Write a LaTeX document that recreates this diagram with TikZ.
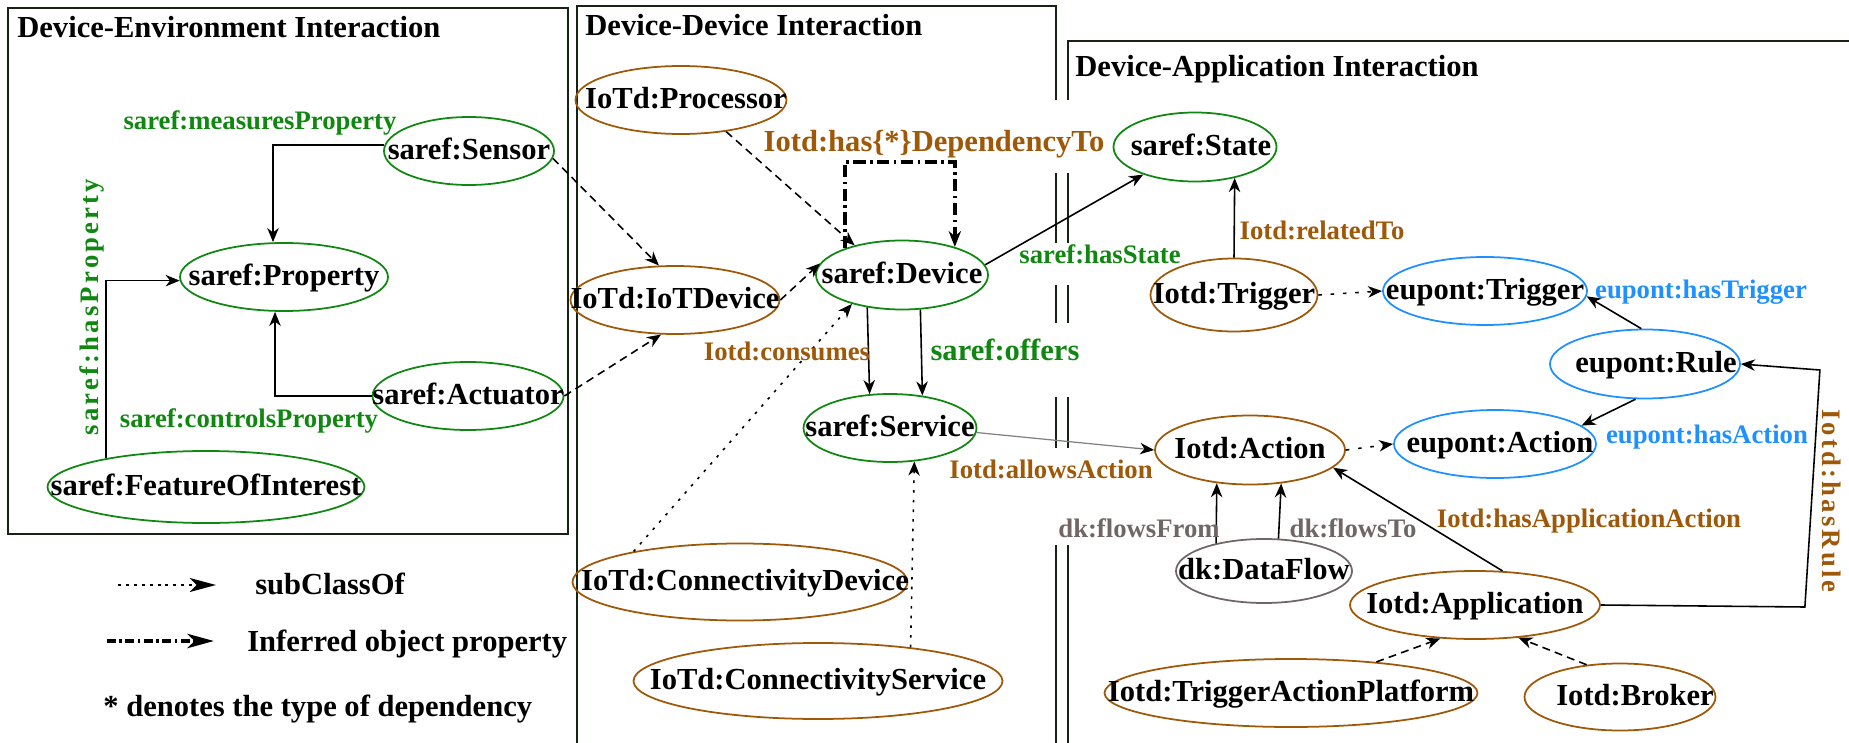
\documentclass[tikz,border=0pt]{standalone}
\usepackage{fontspec}
\setmainfont{Liberation Serif}
\usetikzlibrary{arrows.meta,shapes.geometric,calc}

\definecolor{sgreen}{RGB}{16,135,16}
\definecolor{iotbrown}{RGB}{158,88,8}
\definecolor{eublue}{RGB}{30,144,255}
\definecolor{dkgray}{RGB}{112,102,102}
\definecolor{framecol}{RGB}{20,35,20}

% centred text that does not enlarge the ellipse around it
\newcommand\ctext[2][0pt]{\makebox[0pt]{\hspace*{#1}#2}}

\begin{document}
\begin{tikzpicture}[x=0.02cm,y=-0.02cm,
  nodefont/.style={font=\fontsize{17.4}{20}\selectfont\bfseries},
  labfont/.style={font=\fontsize{15.2}{18}\selectfont\bfseries},
  spacedfont/.style={font=\fontsize{15.2}{18}\selectfont\bfseries\addfontfeatures{LetterSpace=12}},
  wh/.style 2 args={minimum width=#1*0.02cm, minimum height=#2*0.02cm},
  cls/.style={ellipse, draw=#1, line width=1pt, inner sep=0pt, nodefont,
              text height=9.5pt, text depth=0pt},
  gnode/.style={cls=sgreen},
  bnode/.style={cls=iotbrown},
  unode/.style={cls=eublue},
  knode/.style={cls=dkgray},
  lab/.style={labfont, anchor=base, inner sep=0pt},
  biglab/.style={nodefont, anchor=base, inner sep=0pt},
  tip/.style={-{Stealth[length=8pt,width=6.5pt,inset=2.5pt]}},
  rel/.style={draw, line width=0.9pt, tip},
  graylink/.style={draw=gray, line width=0.7pt,
                   -{Stealth[length=8pt,width=6.5pt,inset=2.5pt,color=black]}},
  sub/.style={rel, dash pattern=on 4.5pt off 3pt},
  subdot/.style={rel, dash pattern=on 1.5pt off 4pt},
  subfine/.style={rel, dash pattern=on 2pt off 5pt},
  inferred/.style={draw, line width=2.2pt, dash pattern=on 7pt off 2.5pt on 1.5pt off 2.5pt,
                   -{Stealth[length=9pt,width=7pt,inset=3pt]}},
  frame/.style={draw=framecol, line width=1.2pt},
]
\useasboundingbox (0,0) rectangle (1849,743);

% ---------- panel frames ----------
\draw[frame] (8,8) rectangle (568,534);
\draw[frame] (577,743) -- (577,6) -- (1056,6) -- (1056,100);
\draw[frame] (1068,100) -- (1068,41) -- (1849,41);
\foreach \ya/\yb in {173/243, 285/323, 397/448, 545/743}{
  \draw[frame] (1056,\ya) -- (1056,\yb);
  \draw[frame] (1068,\ya) -- (1068,\yb);
}

\node[nodefont, anchor=base west, inner sep=0pt] (tde) at (17,38) {Device-Environment Interaction};
\node[nodefont, anchor=base west, inner sep=0pt] (tdd) at (585,36) {Device-Device Interaction};
\node[nodefont, anchor=base west, inner sep=0pt] (tda) at (1075,77) {Device-Application Interaction};

% ---------- classes ----------
\node[gnode, wh={170}{68}] (sensor)   at (469,151) {\ctext{saref:Sensor}};
\node[gnode, wh={208}{68}] (property) at (284,277) {\ctext{saref:Property}};
\node[gnode, wh={191}{68}] (actuator) at (468,396) {\ctext{saref:Actuator}};
\node[gnode, wh={317}{72}] (foi)      at (206,487) {\ctext{saref:FeatureOfInterest}};

\node[bnode, wh={211}{68}] (processor) at (681,100) {\ctext[0.2cm]{IoTd:Processor}};
\node[bnode, wh={209}{68}] (iotdevice) at (675,300) {\ctext{IoTd:IoTDevice}};
\node[gnode, wh={172}{69}] (device)    at (902,275) {\ctext{saref:Device}};
\node[gnode, wh={173}{68}] (service)   at (890,428) {\ctext{saref:Service}};
\node[bnode, wh={335}{77}] (conndev)   at (740,582) {\ctext[0.2cm]{IoTd:ConnectivityDevice}};
\node[bnode, wh={369}{76}] (connserv)  at (818,681) {\ctext{IoTd:ConnectivityService}};

\node[gnode, wh={163}{69}] (state)       at (1195,147) {\ctext[0.24cm]{saref:State}};
\node[bnode, wh={167}{73}] (itrigger)    at (1234,295) {\ctext{Iotd:Trigger}};
\node[unode, wh={204}{68}] (etrigger)    at (1485,291) {\ctext{eupont:Trigger}};
\node[unode, wh={190}{69}] (rule)        at (1645,364) {\ctext[0.44cm]{eupont:Rule}};
\node[unode, wh={202}{68}] (eaction)     at (1495,444) {\ctext[0.2cm]{eupont:Action}};
\node[bnode, wh={190}{69}] (iaction)     at (1250,450) {\ctext{Iotd:Action}};
\node[knode, wh={176}{64}] (dataflow)    at (1264,571) {\ctext{dk:DataFlow}};
\node[bnode, wh={250}{68}] (application) at (1475,605) {\ctext{Iotd:Application}};
\node[bnode, wh={373}{68}] (tap)         at (1291,693) {\ctext{Iotd:TriggerActionPlatform}};
\node[bnode, wh={191}{67}] (broker)      at (1620,697) {\ctext[0.6cm]{Iotd:Broker}};

% ---------- device-environment relations ----------
\draw[rel] (sensor.176) -| ([xshift=-0.22cm]property.north);
\draw[rel] (actuator.west) -| ([xshift=-0.18cm]property.south);
\draw[rel] (foi.164) |- (property.182);

\node[lab, text=sgreen] (lmeas) at (260,130) {saref:measuresProperty};
\node[lab, text=sgreen] (lctrl) at (249,427) {saref:controlsProperty};
\node[spacedfont, text=sgreen, rotate=90, inner sep=0pt] (lhasp) at (92,307) {saref:hasProperty};

% ---------- device-device relations ----------
\draw[sub] (sensor.-5) -- (iotdevice.115);
\draw[sub] (actuator.east) -- (iotdevice.-112);
\draw[sub] (processor.-35) -- (device.148);
\draw[sub] (iotdevice.east) -- (device.172);
\draw[subdot] (conndev.164) -- (device.-150);
\draw[subdot] (connserv.20) -- (service.-54);
\draw[rel] (device.-137) -- (service.121);
\draw[rel] (device.-62) -- (service.45);
\draw[rel] (device.7) -- (state.-152);

\coordinate (dep) at (900,162);
\draw[inferred] (device.155) -- (device.155 |- dep) -- (device.28 |- dep) -- (device.28);

\node[biglab, text=iotbrown] (ldep)  at (934,152) {Iotd:has\{*\}DependencyTo};
\node[lab, text=iotbrown]    (lcons) at (787,360) {Iotd:consumes};
\node[biglab, text=sgreen]   (loff)  at (1005,360) {saref:offers};
\node[lab, text=sgreen]      (lhst)  at (1100,263) {saref:hasState};

% ---------- device-application relations ----------
\draw[graylink] (service.-3) -- (iaction.west);
\draw[rel] (itrigger.north) -- (state.-38);
\draw[subfine] (itrigger.east) -- (etrigger.west);
\draw[rel] (rule.96) -- (etrigger.-3);
\draw[rel] (rule.-105) -- (eaction.12);
\draw[subfine] (iaction.east) -- (eaction.west);
\draw[rel] (application.51) -- (iaction.-12);
\draw[rel] (dataflow.150) -- (iaction.-135);
\draw[rel] (dataflow.66) -- (iaction.-47);
\draw[sub] (tap.20) -- (application.-136);
\draw[sub] (broker.136) -- (application.-37);
\draw[rel] (application.east) -- ($(application.east)+(204,2)$)
           -- ($(rule.east)+(79,6)$) -- (rule.east);

\node[lab, text=iotbrown] (lallow) at (1051,478) {Iotd:allowsAction};
\node[lab, text=iotbrown] (lrelto) at (1322,239) {Iotd:relatedTo};
\node[lab, text=eublue]   (lhtrig) at (1701,298) {eupont:hasTrigger};
\node[lab, text=eublue]   (lhact)  at (1707,443) {eupont:hasAction};
\node[lab, text=iotbrown] (lhapp)  at (1589,527) {Iotd:hasApplicationAction};
\node[lab, text=dkgray]   (lfrom)  at (1139,537) {dk:flowsFrom};
\node[lab, text=dkgray]   (lto)    at (1353,537) {dk:flowsTo};
\node[spacedfont, text=iotbrown, rotate=-90, inner sep=0pt] (lrule) at (1832,501) {Iotd:hasRule};

% ---------- legend ----------
\coordinate (lsA) at (118,585);
\coordinate (lsB) at (216,585);
\draw[line width=0.9pt, dash pattern=on 1.7pt off 2.8pt,
      -{Stealth[length=15pt,width=8pt,inset=4pt]}] (lsA) -- (lsB);
\node[nodefont, anchor=base west, inner sep=0pt] (lsub) at (255,594) {subClassOf};

\coordinate (liA) at (107,641);
\coordinate (liB) at (214,641);
\draw[line width=2.6pt, dash pattern=on 5pt off 2pt on 1.5pt off 2pt,
      -{Stealth[length=15pt,width=8pt,inset=4pt]}] (liA) -- (liB);
\node[nodefont, anchor=base west, inner sep=0pt] (linf) at (247,651) {Inferred object property};

\node[nodefont, anchor=base west, inner sep=0pt] (lnote) at (103,716) {* denotes the type of dependency};
\end{tikzpicture}
\end{document}
